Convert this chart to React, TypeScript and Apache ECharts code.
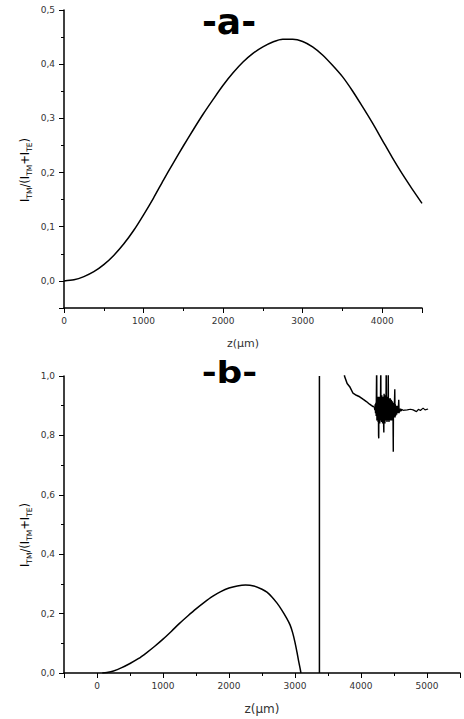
import React, { useEffect, useRef } from "react";
import * as echarts from "echarts";

// ---------- data ----------
// Panel a: z (µm) and I_TM/(I_TM+I_TE)
const topZ = [0, 125, 250, 375, 500, 625, 750, 875, 1000, 1125, 1250, 1375, 1500, 1625, 1750, 1875, 2000, 2125, 2250, 2375, 2500, 2625, 2750, 2875, 3000, 3125, 3250, 3375, 3500, 3625, 3750, 3875, 4000, 4125, 4250, 4375, 4500];
const topV = [0.0, 0.002, 0.008, 0.017, 0.03, 0.047, 0.068, 0.093, 0.122, 0.153, 0.186, 0.218, 0.249, 0.279, 0.308, 0.335, 0.361, 0.384, 0.404, 0.42, 0.432, 0.441, 0.446, 0.446, 0.442, 0.432, 0.417, 0.398, 0.377, 0.351, 0.322, 0.292, 0.26, 0.228, 0.198, 0.17, 0.143];

// Panel b: first lobe
const lobeZ = [80, 150, 250, 375, 500, 625, 750, 875, 1000, 1125, 1250, 1375, 1500, 1625, 1750, 1875, 2000, 2125, 2250, 2375, 2500, 2575, 2650, 2725, 2800, 2875, 2925, 2965, 3000, 3030, 3055, 3075, 3090];
const lobeV = [0.0, 0.002, 0.007, 0.018, 0.032, 0.048, 0.068, 0.09, 0.114, 0.14, 0.167, 0.192, 0.216, 0.238, 0.258, 0.274, 0.286, 0.293, 0.296, 0.293, 0.282, 0.272, 0.256, 0.236, 0.212, 0.184, 0.162, 0.135, 0.103, 0.07, 0.04, 0.018, 0.0];

// Panel b: vertical jump
const jumpLine = [[3370, 0], [3370, 1.0]];

// Panel b: right branch (decay) before the noisy region
const rightBranch = [
  [3735, 1.03], [3752, 0.998], [3790, 0.975], [3829, 0.964], [3879, 0.942], [3930, 0.935], [3980, 0.93],
  [4030, 0.922], [4082, 0.914], [4130, 0.905], [4183, 0.897], [4200, 0.897],
];

// Panel b: noisy region
const noisyRegion = [
  [4200, 0.897], [4205, 0.895], [4210, 0.885], [4215, 0.905], [4220, 0.875], [4225, 0.91], [4230, 0.865],
  [4235, 0.99], [4238, 1.06], [4241, 0.85], [4245, 0.92], [4250, 0.86], [4255, 0.93], [4259, 0.845],
  [4263, 0.92], [4266, 0.8], [4269, 0.79], [4272, 0.93], [4276, 0.85], [4280, 0.925], [4284, 0.84],
  [4288, 0.93], [4292, 0.85], [4296, 0.94], [4300, 1.06], [4303, 0.86], [4307, 0.93], [4311, 0.845],
  [4315, 0.935], [4319, 0.85], [4323, 0.925], [4327, 0.84], [4331, 0.93], [4335, 0.85], [4339, 0.92],
  [4343, 0.83], [4346, 0.81], [4350, 0.94], [4354, 0.85], [4358, 0.93], [4362, 0.84], [4366, 0.935],
  [4370, 0.85], [4374, 0.93], [4378, 0.86], [4382, 1.06], [4386, 0.85], [4390, 0.93], [4394, 0.845],
  [4398, 0.925], [4402, 0.85], [4406, 0.93], [4410, 0.86], [4413, 1.06], [4416, 0.85], [4420, 0.92],
  [4424, 0.845], [4428, 0.925], [4432, 0.85], [4436, 0.92], [4440, 0.855], [4444, 0.925], [4448, 0.85],
  [4452, 0.915], [4456, 0.855], [4460, 0.92], [4464, 0.85], [4468, 0.91], [4472, 0.855], [4476, 0.915],
  [4480, 0.86], [4484, 0.91], [4487, 0.8], [4489, 0.745], [4492, 0.9], [4496, 0.86], [4500, 0.91],
  [4504, 0.86], [4508, 0.92], [4512, 0.955], [4516, 0.86], [4520, 0.905], [4524, 0.865], [4528, 0.9],
  [4532, 0.87], [4536, 0.9], [4540, 0.87], [4545, 0.895], [4550, 0.875], [4556, 0.9], [4562, 0.875],
  [4567, 0.895], [4572, 0.92], [4577, 0.875], [4583, 0.89], [4590, 0.88], [4600, 0.89], [4610, 0.882],
  [4620, 0.888], [4630, 0.884],
];

// Panel b: flat tail
const tail = [
  [4630, 0.884], [4700, 0.886], [4750, 0.888], [4789, 0.886], [4841, 0.88], [4870, 0.888], [4900, 0.884],
  [4941, 0.892], [4970, 0.886], [5017, 0.889],
];

const panelTitles = ["-a-", "-b-"];
const xName = "z(µm)";

// ---------- styling helpers ----------
const FONT = "DejaVu Sans";
const zip = (xs: number[], ys: number[]) => xs.map((x, i) => [x, ys[i]]);

const fmtY = (v: number) => (v < -1e-9 ? "" : v.toFixed(1).replace(".", ","));
const fmtX = (v: number) => (Math.abs(v % 1000) < 1e-6 ? String(v) : "");

const axisBase = {
  axisLine: { show: true, onZero: false, lineStyle: { color: "#000", width: 1.5 } },
  axisTick: { show: true, inside: false, length: 5, lineStyle: { color: "#000", width: 1 } },
  minorTick: { show: true, splitNumber: 2, length: 3, lineStyle: { color: "#000", width: 1 } },
  splitLine: { show: false },
  minorSplitLine: { show: false },
};

const labelBase = { color: "#333", fontSize: 9, fontFamily: FONT };

const lineStyle = { color: "#000", width: 1.5 };

const yLabelRich = {
  m: { fontSize: 11.5, fontFamily: FONT, color: "#222", lineHeight: 16, verticalAlign: "middle" },
  s: { fontSize: 7.5, fontFamily: FONT, color: "#222", lineHeight: 8, verticalAlign: "bottom" },
};
const yLabelText = "{m|I}{s|TM}{m|/(I}{s|TM}{m|+I}{s|TE}{m|)}";

export default function App() {
  const ref = useRef<HTMLDivElement>(null);

  useEffect(() => {
    const chart = echarts.init(ref.current!, null, { renderer: "svg" });
    const bSeries = (data: number[][], extra: any = {}) => ({
      type: "line",
      xAxisIndex: 1,
      yAxisIndex: 1,
      data,
      showSymbol: false,
      clip: true,
      lineStyle,
      ...extra,
    });
    const option: any = {
      animation: false,
      backgroundColor: "#fff",
      grid: [
        { left: 64, top: 10, width: 358, height: 298, containLabel: false },
        { left: 64, top: 376, width: 396, height: 297, containLabel: false },
      ],
      xAxis: [
        {
          ...axisBase,
          type: "value",
          gridIndex: 0,
          min: 0,
          max: 4500,
          interval: 1000,
          name: xName,
          nameLocation: "middle",
          nameGap: 30,
          nameTextStyle: { fontSize: 11, fontFamily: FONT, color: "#333" },
          axisLabel: { ...labelBase, margin: 8, formatter: fmtX },
        },
        {
          ...axisBase,
          type: "value",
          gridIndex: 1,
          min: -500,
          max: 5500,
          splitNumber: 6,
          name: xName,
          nameLocation: "middle",
          nameGap: 30,
          nameTextStyle: { fontSize: 12, fontFamily: FONT, color: "#333" },
          axisLabel: { ...labelBase, margin: 8, formatter: fmtX },
        },
      ],
      yAxis: [
        {
          ...axisBase,
          type: "value",
          gridIndex: 0,
          min: -0.05,
          max: 0.5,
          splitNumber: 5,
          axisLabel: { ...labelBase, margin: 9, formatter: fmtY },
        },
        {
          ...axisBase,
          type: "value",
          gridIndex: 1,
          min: 0,
          max: 1.0,
          interval: 0.2,
          axisLabel: { ...labelBase, margin: 9, formatter: fmtY },
        },
      ],
      graphic: [
        {
          type: "text",
          x: 229,
          y: 21,
          style: { text: panelTitles[0], font: `bold 36px "${FONT}"`, fill: "#000", align: "center", verticalAlign: "middle" },
        },
        {
          type: "text",
          x: 229.5,
          y: 373,
          scaleX: 1.2,
          style: { text: panelTitles[1], font: `bold 30px "${FONT}"`, fill: "#000", align: "center", verticalAlign: "middle" },
        },
        {
          type: "text",
          x: 25,
          y: 170,
          rotation: Math.PI / 2,
          style: { text: yLabelText, rich: yLabelRich, align: "center", verticalAlign: "middle" },
        },
        {
          type: "text",
          x: 25,
          y: 535,
          rotation: Math.PI / 2,
          style: { text: yLabelText, rich: yLabelRich, align: "center", verticalAlign: "middle" },
        },
      ],
      series: [
        {
          type: "line",
          xAxisIndex: 0,
          yAxisIndex: 0,
          data: zip(topZ, topV),
          showSymbol: false,
          smooth: 0.3,
          lineStyle,
        },
        bSeries(zip(lobeZ, lobeV), { smooth: 0.3 }),
        bSeries(jumpLine),
        bSeries(rightBranch),
        bSeries(noisyRegion, { lineStyle: { color: "#000", width: 1.4 } }),
        bSeries(tail, { lineStyle: { color: "#000", width: 1.2 } }),
      ],
    };
    chart.setOption(option);
    return () => chart.dispose();
  }, []);

  return (
    <div
      ref={ref}
      style={{ position: "absolute", left: 0, top: 0, width: 464, height: 719, background: "#fff" }}
    />
  );
}
